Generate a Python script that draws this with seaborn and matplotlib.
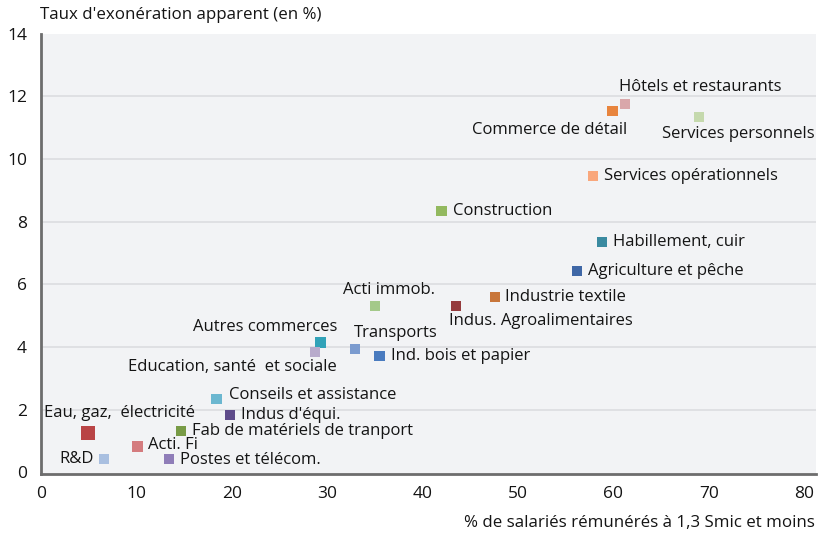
import pandas as pd
import matplotlib
matplotlib.use("Agg")
import matplotlib.pyplot as plt
import seaborn as sns

# --- data ---
sectors = [
    "Hôtels et restaurants", "Commerce de détail", "Services personnels",
    "Services opérationnels", "Construction", "Habillement, cuir",
    "Agriculture et pêche", "Industrie textile", "Indus. Agroalimentaires",
    "Acti immob.", "Autres commerces", "Education, santé  et sociale",
    "Transports", "Ind. bois et papier", "Conseils et assistance",
    "Indus d'équi.", "Fab de matériels de tranport", "Eau, gaz,  électricité",
    "Acti. Fi", "R&D", "Postes et télécom.",
]
pct_low_wage = [61.2, 59.9, 69.0, 57.9, 42.0, 58.8, 56.2, 47.6, 43.5,
                35.0, 29.3, 28.7, 32.9, 35.5, 18.4, 19.8, 14.7, 4.9,
                10.1, 6.6, 13.4]
exo_rate = [11.75, 11.52, 11.34, 9.45, 8.33, 7.35, 6.42, 5.6, 5.3,
            5.3, 4.14, 3.85, 3.93, 3.72, 2.34, 1.84, 1.32, 1.25,
            0.83, 0.43, 0.43]

x_ticks = [0, 10, 20, 30, 40, 50, 60, 70, 80]
y_ticks = [0, 2, 4, 6, 8, 10, 12, 14]

# --- styling ---
colors = {
    "Hôtels et restaurants": "#d9a7aa", "Commerce de détail": "#e8843d",
    "Services personnels": "#c5d9ad", "Services opérationnels": "#f9a77c",
    "Construction": "#93b95f", "Habillement, cuir": "#3a8aa0",
    "Agriculture et pêche": "#3f67a6", "Industrie textile": "#c8763a",
    "Indus. Agroalimentaires": "#953b3d", "Acti immob.": "#a4c98a",
    "Autres commerces": "#31a2b8", "Education, santé  et sociale": "#b8abcc",
    "Transports": "#7b9bcf", "Ind. bois et papier": "#4a7bbf",
    "Conseils et assistance": "#6bb7d0", "Indus d'équi.": "#5e4b8a",
    "Fab de matériels de tranport": "#789b46", "Eau, gaz,  électricité": "#b94445",
    "Acti. Fi": "#d47b7e", "R&D": "#a9bfe0", "Postes et télécom.": "#8f7db8",
}
# label placement: (ha, dx px, dy px)
label_pos = {
    "Hôtels et restaurants": ("left", -6, 17),
    "Commerce de détail": ("right", 15, -19),
    "Services personnels": ("left", -37, -17),
    "Services opérationnels": ("left", 11, 0),
    "Construction": ("left", 11, 0),
    "Habillement, cuir": ("left", 11, 0),
    "Agriculture et pêche": ("left", 11, 0),
    "Industrie textile": ("left", 10, 0),
    "Indus. Agroalimentaires": ("left", -7, -15),
    "Acti immob.": ("left", -32, 16),
    "Autres commerces": ("right", 17, 16),
    "Education, santé  et sociale": ("right", 22, -15),
    "Transports": ("left", -1, 16),
    "Ind. bois et papier": ("left", 11, 0),
    "Conseils et assistance": ("left", 12, 4),
    "Indus d'équi.": ("left", 11, 0),
    "Fab de matériels de tranport": ("left", 11, 0),
    "Eau, gaz,  électricité": ("left", -44, 20),
    "Acti. Fi": ("left", 11, 1),
    "R&D": ("right", -10, 0),
    "Postes et télécom.": ("left", 11, -1),
}
big_marker = "Eau, gaz,  électricité"

df = pd.DataFrame({"sector": sectors, "x": pct_low_wage, "y": exo_rate})
df["size"] = ["big" if s == big_marker else "normal" for s in sectors]

sns.set_style("white")
plt.rcParams["font.family"] = ["Open Sans", "DejaVu Sans"]
txt = "#141414"

fig = plt.figure(figsize=(8.18, 5.37), dpi=100)
ax = fig.add_axes([41 / 818, 63 / 537, 775 / 818, 440.5 / 537])
ax.set_facecolor("#f2f3f5")

for v in y_ticks[1:-1]:
    ax.axhline(v, color="#dcdde0", lw=1.2, zorder=0)

sns.scatterplot(data=df, x="x", y="y", hue="sector", palette=colors,
                size="size", sizes={"normal": 56, "big": 95},
                marker="s", linewidth=0, legend=False, ax=ax, zorder=3)

for s, xv, yv in zip(sectors, pct_low_wage, exo_rate):
    ha, dx, dy = label_pos[s]
    ax.annotate(s, (xv, yv), xytext=(dx, dy), textcoords="offset pixels",
                ha=ha, va="center", fontsize=12, color=txt, zorder=4)

ax.set_xlim(0, 81.25)
ax.set_ylim(-0.05, 14)
ax.set_xticks(x_ticks)
ax.set_yticks(y_ticks)
ax.tick_params(axis="both", labelsize=12.5, labelcolor=txt, color="#6d6d6d",
               length=5, width=1.2, direction="out")
ax.tick_params(axis="x", pad=4)
ax.tick_params(axis="y", pad=6, length=4)

for side in ["top", "right"]:
    ax.spines[side].set_visible(False)
for side in ["left", "bottom"]:
    ax.spines[side].set_color("#6d6d6d")
    ax.spines[side].set_linewidth(2)

ax.set_xlabel("")
ax.set_ylabel("")
fig.text(40 / 818, 1 - 15 / 537, "Taux d'exonération apparent (en %)",
         ha="left", va="center", fontsize=12.2, color=txt)
fig.text(815 / 818, 1 - 523 / 537, "% de salariés rémunérés à 1,3 Smic et moins",
         ha="right", va="center", fontsize=12.2, color=txt)

fig.savefig("out.png", dpi=100)
